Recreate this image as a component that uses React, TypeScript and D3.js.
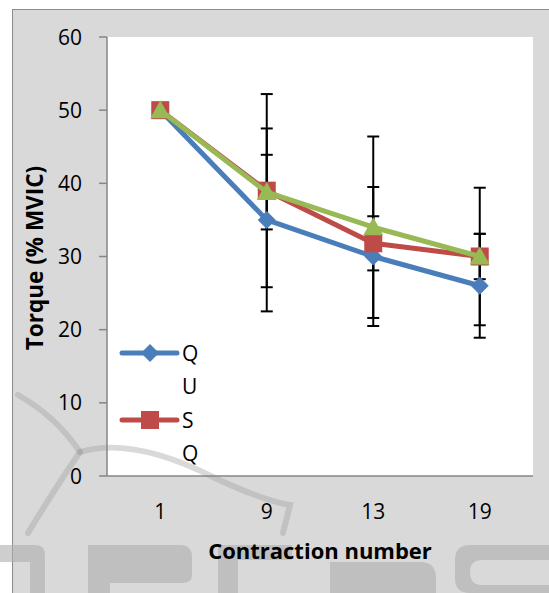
import React from 'react';
import * as d3 from 'd3';

const categories = ['1', '9', '13', '19'];
const seriesNames = ['QU', 'SQ', 'SU'];
const quValues = [50, 35, 30, 26];
const sqValues = [50, 39, 31.8, 30];
const suValues = [50, 38.8, 34, 30];
const quErrors = [0, 12.5, 9.5, 7.1];
const sqErrors = [0, 13.2, 3.7, 9.4];
const suErrors = [0, 5.1, 12.4, 3.1];
const yTicks = [0, 10, 20, 30, 40, 50, 60];

const colors = ['#4a7ebb', '#be4b48', '#98b954'];
const font = '"Open Sans", "Noto Sans", sans-serif';

const W = 549;
const H = 593;
const plot = { left: 107, right: 533, top: 37, bottom: 476 };

const x = d3
  .scaleBand()
  .domain(categories)
  .range([plot.left, plot.right]);
const y = d3.scaleLinear().domain([0, 60]).range([plot.bottom, plot.top]);
const cx = (c: string) => (x(c) as number) + x.bandwidth() / 2;

const series = [
  { name: seriesNames[0], values: quValues, errors: quErrors, shape: 'diamond' },
  { name: seriesNames[1], values: sqValues, errors: sqErrors, shape: 'square' },
  { name: seriesNames[2], values: suValues, errors: suErrors, shape: 'triangle' },
];

const marker = (shape: string, px: number, py: number, color: string, key: string) => {
  if (shape === 'diamond') {
    return (
      <path key={key} d={`M${px},${py - 9}L${px + 9},${py}L${px},${py + 9}L${px - 9},${py}Z`} fill={color} />
    );
  }
  if (shape === 'square') {
    return <rect key={key} x={px - 9} y={py - 9} width={18} height={18} fill={color} />;
  }
  return (
    <path key={key} d={`M${px},${py - 10}L${px + 10},${py + 8}L${px - 10},${py + 8}Z`} fill={color} />
  );
};

export default function App() {
  const line = d3
    .line<number>()
    .x((_, i) => cx(categories[i]))
    .y((d) => y(d));

  return (
    <svg
      width={W}
      height={H}
      style={{ position: 'absolute', left: 0, top: 0 }}
      fontFamily={font}
    >
      <defs>
        <clipPath id="plotClip">
          <rect x={plot.left} y={plot.top} width={plot.right - plot.left} height={plot.bottom - plot.top} />
        </clipPath>
      </defs>
      <rect x={0} y={0} width={W} height={H} fill="#ffffff" />
      {/* outer chart area */}
      <rect x={12.5} y={9.5} width={W} height={H} fill="#d9d9d9" stroke="#8c8c8c" strokeWidth={1} />
      {/* plot area */}
      <rect
        x={plot.left}
        y={plot.top}
        width={plot.right - plot.left}
        height={plot.bottom - plot.top}
        fill="#ffffff"
      />

      {/* faint watermark, under the text */}
      <g fill="none" stroke="#a0a0a0" strokeOpacity={0.4} strokeWidth={6} strokeLinecap="round">
        <path d="M28,533 C45,505 62,478 80,452" />
        <path d="M80,452 C65,430 45,410 18,395" />
        <path d="M80,452 C120,440 170,455 215,478 C245,492 270,502 290,505 L283,533" />
      </g>
      <g fill="#adadad" fillOpacity={0.6}>
        <path d="M0,545 H35 Q45,545 45,555 V593 H30 V562 H0 Z" />
        <path d="M88,545 H180 Q192,545 192,557 V575 Q192,583 182,583 H110 V593 H88 Z" />
        <path d="M218,545 H292 V560 H238 V593 H218 Z" />
        <path d="M330,562 H420 Q436,562 436,578 V593 H330 Z" />
        <path d="M470,545 H549 V560 H482 Q470,560 470,572 Q470,585 482,585 H549 V593 H470 Q455,593 455,578 V560 Q455,545 470,545 Z" />
      </g>

      {/* y axis */}
      <line x1={plot.left} x2={plot.left} y1={plot.top} y2={plot.bottom} stroke="#868686" strokeWidth={1.5} />
      {yTicks.map((t) => (
        <g key={t}>
          <line x1={plot.left - 8} x2={plot.left} y1={y(t)} y2={y(t)} stroke="#868686" strokeWidth={1.5} />
          <text x={82} y={y(t)} dy="0.36em" textAnchor="end" fontSize={21} fill="#000">
            {t}
          </text>
        </g>
      ))}
      {/* x axis */}
      <line x1={plot.left} x2={plot.right} y1={plot.bottom} y2={plot.bottom} stroke="#868686" strokeWidth={1.5} />
      {categories.map((c) => (
        <text key={c} x={cx(c)} y={511} dy="0.36em" textAnchor="middle" fontSize={21} fill="#000">
          {c}
        </text>
      ))}
      <text x={320} y={551} dy="0.36em" textAnchor="middle" fontSize={22} fontWeight="bold" fill="#000">
        Contraction number
      </text>
      <text
        transform="translate(35,258) rotate(-90)"
        dy="0.36em"
        textAnchor="middle"
        fontSize={22.5}
        fontWeight="bold"
        fill="#000"
      >
        Torque (% MVIC)
      </text>

      {/* error bars */}
      {series.map((s, si) =>
        s.values.map((v, i) => {
          const e = s.errors[i];
          if (!e) return null;
          const px = cx(categories[i]);
          return (
            <g key={`e${si}-${i}`} stroke="#000" strokeWidth={2}>
              <line x1={px} x2={px} y1={y(v + e)} y2={y(v - e)} />
              <line x1={px - 6} x2={px + 6} y1={y(v + e)} y2={y(v + e)} />
              <line x1={px - 6} x2={px + 6} y1={y(v - e)} y2={y(v - e)} />
            </g>
          );
        })
      )}

      {/* lines and markers */}
      {series.map((s, si) => (
        <g key={s.name}>
          <path d={line(s.values) || ''} fill="none" stroke={colors[si]} strokeWidth={5} strokeLinejoin="round" />
          {s.values.map((v, i) => marker(s.shape, cx(categories[i]), y(v), colors[si], `m${si}-${i}`))}
        </g>
      ))}

      {/* legend (clipped by plot area, names wrap) */}
      <g clipPath="url(#plotClip)">
        {series.map((s, si) => {
          const ly = 353 + si * 67;
          return (
            <g key={`l${si}`}>
              <line x1={122} x2={177} y1={ly} y2={ly} stroke={colors[si]} strokeWidth={5} strokeLinecap="round" />
              {marker(s.shape, 150, ly, colors[si], `lm${si}`)}
              {s.name.split('').map((ch, ci) => (
                <text key={ci} x={182} y={ly + ci * 33} dy="0.36em" fontSize={21} fill="#000">
                  {ch}
                </text>
              ))}
            </g>
          );
        })}
      </g>
    </svg>
  );
}
